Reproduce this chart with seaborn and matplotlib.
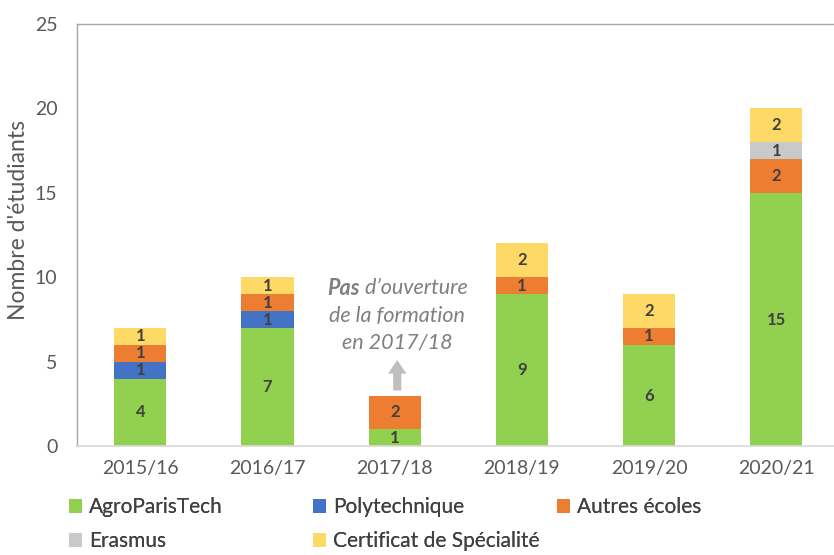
import matplotlib.pyplot as plt
import numpy as np
import pandas as pd
import seaborn as sns
from matplotlib.patches import Patch
from matplotlib.transforms import ScaledTranslation

years = ["2015/16", "2016/17", "2017/18", "2018/19", "2019/20", "2020/21"]
agro = [4, 7, 1, 9, 6, 15]
poly = [1, 1, 0, 0, 0, 0]
autres = [1, 1, 2, 1, 1, 2]
erasmus = [0, 0, 0, 0, 0, 1]
certif = [1, 1, 0, 2, 2, 2]

series = [
    ("AgroParisTech", agro, "#92D050"),
    ("Polytechnique", poly, "#4472C4"),
    ("Autres écoles", autres, "#ED7D31"),
    ("Erasmus", erasmus, "#C9C9C9"),
    ("Certificat de Spécialité", certif, "#FFD966"),
]

sns.set_theme(style="white")
plt.rcParams["font.family"] = ["Lato", "DejaVu Sans"]

fig = plt.figure(figsize=(8.34, 5.55), dpi=100)
ax = fig.add_axes([0.092, 0.196, 0.915, 0.761])

bottom = np.zeros(len(years))
for name, vals, color in series:
    df = pd.DataFrame({"annee": years, "n": vals})
    sns.barplot(data=df, x="annee", y="n", color=color, width=0.41,
                bottom=bottom.copy(), saturation=1, ax=ax, linewidth=0)
    ax.bar_label(ax.containers[-1], labels=[str(v) if v else "" for v in vals],
                 label_type="center", fontsize=12, fontweight="bold",
                 color="#404040")
    bottom += np.array(vals)

ax.set_ylim(0, 25)
ax.set_xlim(-0.5, 5.5)
ax.set_yticks(range(0, 26, 5))
ax.set_xlabel("")
ax.set_ylabel("Nombre d'étudiants", fontsize=16.5, color="#595959")
ax.yaxis.set_label_coords(-0.063, 0.535)
ax.tick_params(axis="both", length=0, labelsize=14, colors="#595959")
ax.tick_params(axis="x", pad=10)
ax.tick_params(axis="y", pad=14)
for side in ["left", "top", "right"]:
    ax.spines[side].set_color("#A6A6A6")
    ax.spines[side].set_linewidth(1)
ax.spines["bottom"].set_color("#D9D9D9")

# note above the 2017/18 bar
note_x = 2.02
note_style = dict(fontsize=15.5, style="italic", color="#7F7F7F", va="center")
t1 = ax.text(note_x, 9.36, "Pas", fontweight="bold", ha="left", **note_style)
t2 = ax.annotate(" d’ouverture", xy=(1, 0.5), xycoords=t1, ha="left", **note_style)
ax.text(note_x, 7.70, "de la formation", ha="center", **note_style)
ax.text(note_x, 6.16, "en 2017/18", ha="center", **note_style)
ax.annotate("", xy=(note_x, 5.1), xytext=(note_x, 3.3),
            arrowprops=dict(arrowstyle="simple,head_width=0.95,head_length=0.7,tail_width=0.42",
                            color="#BFBFBF", lw=0, mutation_scale=14,
                            shrinkA=0, shrinkB=0))

fig.canvas.draw()
r = fig.canvas.get_renderer()
total = t1.get_window_extent(r).width + t2.get_window_extent(r).width
t1.set_transform(ax.transData + ScaledTranslation(-total / 2 / fig.dpi, 0, fig.dpi_scale_trans))

# legend: three equal columns, filled row by row
cols = [[series[0], series[3]], [series[1], series[4]], [series[2]]]
for x0, col in zip([0.083, 0.375, 0.668], cols):
    handles = [Patch(facecolor=c, edgecolor="none", label=n) for n, _, c in col]
    leg = fig.legend(handles=handles, loc="upper left", bbox_to_anchor=(x0, 0.104),
                     frameon=False, fontsize=15, handlelength=0.62,
                     handleheight=0.62, handletextpad=0.35, labelspacing=0.68,
                     borderpad=0, borderaxespad=0, labelcolor="#404040")
    fig.add_artist(leg)

fig.savefig("out.png", dpi=100)
